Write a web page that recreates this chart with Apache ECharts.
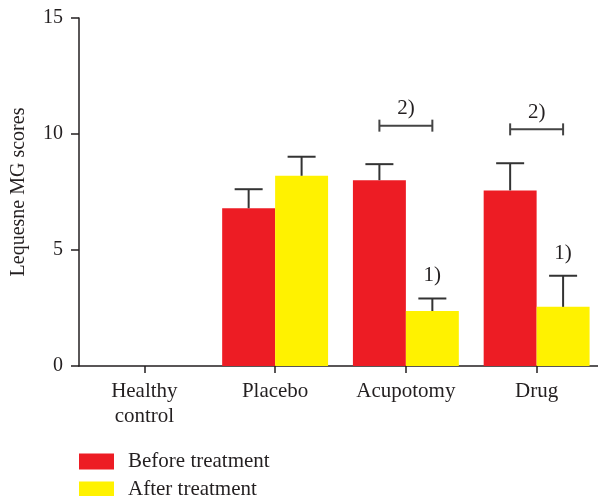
<!DOCTYPE html>
<html>
<head>
<meta charset="utf-8">
<script src="https://cdn.jsdelivr.net/npm/echarts@6/dist/echarts.min.js"></script>
<style>
  html, body { margin: 0; padding: 0; background: #fff; }
  #chart { width: 598px; height: 496px; }
</style>
</head>
<body>
<div id="chart"></div>
<script>
// Groups and series
const categories = ['Healthy\ncontrol', 'Placebo', 'Acupotomy', 'Drug'];
const seriesNames = ['Before treatment', 'After treatment'];
const beforeMean = [0, 6.80, 8.01, 7.57];
const afterMean  = [0, 8.20, 2.37, 2.55];
const beforeUpper = [null, 7.62, 8.70, 8.74];
const afterUpper  = [null, 9.02, 2.91, 3.89];

// Significance marks: "1)" above the after-treatment bar, "2)" bracket between bars
const markOneY = [null, null, 3.88, 4.87];
const bracketY = [null, null, 10.36, 10.20];

const yTicks = { min: 0, max: 15, interval: 5 };

const FONT = '"Liberation Serif", "Times New Roman", serif';
const INK = '#231f20';
const RED = '#ed1c24';
const YELLOW = '#fff200';
const GAP = 0.19; // fraction of each band left empty between groups

function barOffset(api, side) {
  const band = api.size([1, 0])[0];
  return side * band * (1 - GAP) / 4;
}

// error bar items: [category, mean, upper, side]
const errorData = [];
categories.forEach((c, i) => {
  if (beforeUpper[i] != null) errorData.push([i, beforeMean[i], beforeUpper[i], -1]);
  if (afterUpper[i] != null) errorData.push([i, afterMean[i], afterUpper[i], 1]);
});

const markOneData = [];
markOneY.forEach((v, i) => { if (v != null) markOneData.push([i, v]); });
const bracketData = [];
bracketY.forEach((v, i) => { if (v != null) bracketData.push([i, v]); });

// one legend block per series, stacked vertically
function legendRow(name, top) {
  return {
    data: [name],
    orient: 'vertical',
    left: 79,
    top: top,
    padding: 0,
    itemWidth: 35,
    itemHeight: 16,
    textStyle: { fontFamily: FONT, fontSize: 21, lineHeight: 16, color: INK, padding: [0, 0, 0, 9] },
    icon: 'rect',
    selectedMode: false
  };
}

const chart = echarts.init(document.getElementById('chart'));
chart.setOption({
  animation: false,
  textStyle: { fontFamily: FONT },
  grid: { left: 79, top: 18, bottom: 130, width: 523, containLabel: false, outerBoundsMode: 'none' },
  legend: [legendRow(seriesNames[0], 451), legendRow(seriesNames[1], 479)],
  xAxis: {
    type: 'category',
    data: categories,
    axisLine: { lineStyle: { color: INK, width: 1.5 } },
    axisTick: { show: true, alignWithLabel: true, length: 7, lineStyle: { color: INK, width: 1.5 } },
    axisLabel: { color: INK, fontFamily: FONT, fontSize: 21, margin: 13, lineHeight: 25 }
  },
  yAxis: {
    type: 'value',
    min: yTicks.min, max: yTicks.max, interval: yTicks.interval,
    name: 'Lequesne MG scores',
    nameLocation: 'middle',
    nameRotate: 90,
    nameGap: 50,
    nameTextStyle: { color: INK, fontFamily: FONT, fontSize: 20 },
    splitLine: { show: false },
    axisLine: { show: true, lineStyle: { color: INK, width: 1.5 } },
    axisTick: { show: true, length: 8, lineStyle: { color: INK, width: 1.5 } },
    axisLabel: { color: INK, fontFamily: FONT, fontSize: 20, margin: 16 }
  },
  series: [
    {
      name: seriesNames[0], type: 'bar', data: beforeMean,
      itemStyle: { color: RED }, barGap: '0%', barCategoryGap: (GAP * 100) + '%'
    },
    {
      name: seriesNames[1], type: 'bar', data: afterMean,
      itemStyle: { color: YELLOW }, barGap: '0%', barCategoryGap: (GAP * 100) + '%'
    },
    {
      type: 'custom', name: 'errors', data: errorData, z: 5, clip: false,
      encode: { x: 0, y: [1, 2] },
      renderItem: function (params, api) {
        const side = api.value(3);
        const off = barOffset(api, side);
        const base = api.coord([api.value(0), api.value(1)]);
        const top = api.coord([api.value(0), api.value(2)]);
        const x = base[0] + off;
        const half = 14;
        const style = { stroke: '#333', lineWidth: 2 };
        return {
          type: 'group',
          children: [
            { type: 'line', shape: { x1: x, y1: base[1], x2: x, y2: top[1] }, style },
            { type: 'line', shape: { x1: x - half, y1: top[1], x2: x + half, y2: top[1] }, style }
          ]
        };
      }
    },
    {
      type: 'custom', name: 'mark1', data: markOneData, z: 6, clip: false,
      encode: { x: 0, y: 1 },
      renderItem: function (params, api) {
        const p = api.coord([api.value(0), api.value(1)]);
        return {
          type: 'text',
          style: {
            x: p[0] + barOffset(api, 1), y: p[1],
            text: '1)', fill: INK, font: '21px ' + FONT,
            textAlign: 'center', textVerticalAlign: 'middle'
          }
        };
      }
    },
    {
      type: 'custom', name: 'mark2', data: bracketData, z: 6, clip: false,
      encode: { x: 0, y: 1 },
      renderItem: function (params, api) {
        const p = api.coord([api.value(0), api.value(1)]);
        const x1 = p[0] + barOffset(api, -1);
        const x2 = p[0] + barOffset(api, 1);
        const y = p[1];
        const style = { stroke: '#444', lineWidth: 2 };
        return {
          type: 'group',
          children: [
            { type: 'line', shape: { x1: x1, y1: y, x2: x2, y2: y }, style },
            { type: 'line', shape: { x1: x1, y1: y - 6, x2: x1, y2: y + 6 }, style },
            { type: 'line', shape: { x1: x2, y1: y - 6, x2: x2, y2: y + 6 }, style },
            {
              type: 'text',
              style: {
                x: (x1 + x2) / 2, y: y - 17,
                text: '2)', fill: INK, font: '21px ' + FONT,
                textAlign: 'center', textVerticalAlign: 'middle'
              }
            }
          ]
        };
      }
    }
  ]
});
</script>
</body>
</html>
